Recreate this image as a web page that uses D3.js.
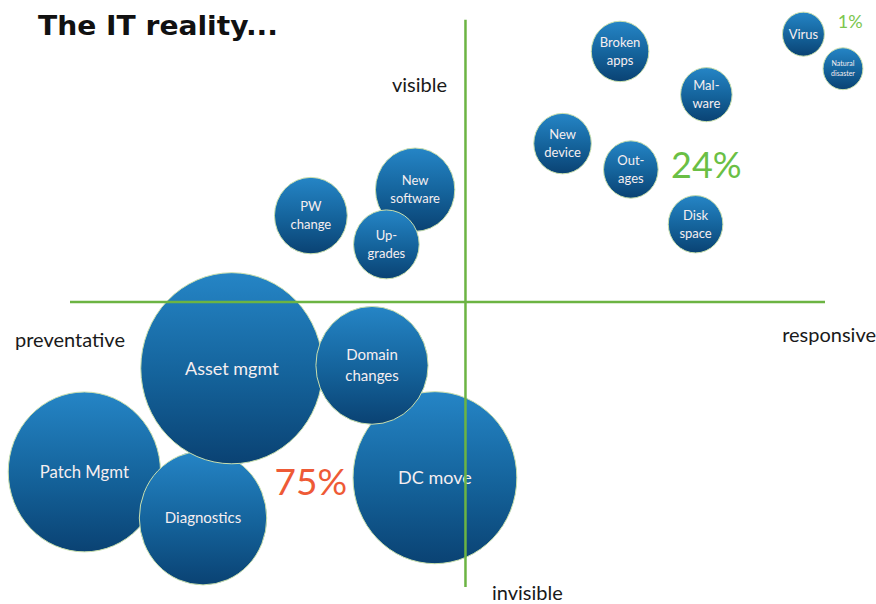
<!DOCTYPE html>
<html lang="en">
<head>
<meta charset="UTF-8">
<title>The IT reality</title>
<script src="https://cdn.jsdelivr.net/npm/d3@7"></script>
<style>
  body{margin:0;background:#fff;}
  text{font-family:Lato,"Open Sans",sans-serif;}
</style>
</head>
<body>
<div class="chart"></div>
<script>
    //data (x: preventative -> responsive, y: invisible -> visible)
    let labels=['PW change','New software','Up-grades','Broken apps','Mal-ware','Virus','Natural disaster',
        'New device','Out-ages','Disk space','Patch Mgmt','Diagnostics','Asset mgmt','DC move','Domain changes']
    let xValues=[-43,-14,-22,43,67,94,105,27,46,64,-106,-73,-65,-8.5,-26]
    let yValues=[30,39,20,87,72,93,81,55,46,27,-59,-75,-23,-61,-22]
    let sizes=[16,19,13,10,8,5.3,4.8,10,9,9,70,49,100,81,38]

    let shareLabels=['75%','24%','1%']
    let shareX=[-43,67,107]
    let shareY=[-67,43,95]

    let axisLabels=['visible','invisible','preventative','responsive']

    //layout
    let width=876,height=604
    let svg=d3.select('.chart').append('svg').attr('width',width).attr('height',height)
    let xScale=d3.scaleLinear().domain([-110,100]).range([70,825])
    let yScale=d3.scaleLinear().domain([-100,100]).range([590,14])
    let rScale=d3.scaleSqrt().domain([0,100]).range([0,91])
    let aspect=1.05

    let grad=svg.append('defs').append('linearGradient').attr('id','bub')
        .attr('x1',0).attr('y1',0).attr('x2',0).attr('y2',1)
    grad.append('stop').attr('offset','0%').attr('stop-color','#2585c6')
    grad.append('stop').attr('offset','55%').attr('stop-color','#14629a')
    grad.append('stop').attr('offset','100%').attr('stop-color','#0a4273')

    //title
    svg.append('text').attr('x',38).attr('y',35).text('The IT reality...')
        .style('font-family','"DejaVu Sans",Verdana,sans-serif').style('font-weight','bold')
        .style('font-size','27px').attr('fill','#111')
        .attr('textLength',240).attr('lengthAdjust','spacingAndGlyphs')

    //bubbles
    let fontFor=(label,r)=>{
        if(label==='Natural disaster') return 7
        if(r<45) return 13
        return Math.min(18,Math.max(15,r*0.22))
    }
    let bubbles=svg.append('g').selectAll('g').data(labels).join('g')
        .attr('transform',(d,i)=>'translate('+xScale(xValues[i])+','+yScale(yValues[i])+')')
    bubbles.append('ellipse')
        .attr('rx',(d,i)=>rScale(sizes[i])).attr('ry',(d,i)=>rScale(sizes[i])*aspect)
        .attr('fill','url(#bub)').attr('stroke','#c9dfae').attr('stroke-width',1)
    bubbles.each(function(d,i){
        let r=rScale(sizes[i])
        let fs=fontFor(d,r)
        let lines=(r<60||d==='Domain changes')?splitLabel(d):[d]
        let t=d3.select(this).append('text').attr('text-anchor','middle')
            .attr('fill','#f6eef0').style('font-size',fs+'px')
        lines.forEach((ln,k)=>{
            t.append('tspan').attr('x',0)
                .attr('y',(k-(lines.length-1)/2)*fs*1.4+fs*0.36).text(ln)
        })
    })
    function splitLabel(s){
        if(s.includes('-')){let p=s.split('-');return [p[0]+'-',p[1]]}
        if(s.includes(' ')&&s!=='Patch Mgmt'&&s!=='Asset mgmt'&&s!=='DC move'){return s.split(' ')}
        return [s]
    }

    //quadrant lines
    let axisColor='#6cb443'
    svg.append('line').attr('x1',xScale(-110)).attr('x2',xScale(100))
        .attr('y1',yScale(0)).attr('y2',yScale(0))
        .attr('stroke',axisColor).attr('stroke-width',2.5)
    svg.append('line').attr('x1',xScale(0)).attr('x2',xScale(0))
        .attr('y1',yScale(98)).attr('y2',yScale(-99))
        .attr('stroke',axisColor).attr('stroke-width',2.5)

    //axis labels
    let axisPos=[[392,92,'start'],[492,600,'start'],[15,347,'start'],[876,342,'end']]
    svg.selectAll('.axlab').data(axisLabels).join('text').attr('class','axlab')
        .attr('x',(d,i)=>axisPos[i][0]).attr('y',(d,i)=>axisPos[i][1])
        .attr('text-anchor',(d,i)=>axisPos[i][2])
        .style('font-size','20px').attr('fill','#1a1a1a').text(d=>d)

    //share labels
    let shareColor=['#ee5a36','#6abf45','#7cc64f']
    let shareSize=[37,36,18]
    svg.selectAll('.share').data(shareLabels).join('text').attr('class','share')
        .attr('x',(d,i)=>xScale(shareX[i])).attr('y',(d,i)=>yScale(shareY[i]))
        .attr('text-anchor','middle').attr('fill',(d,i)=>shareColor[i])
        .style('font-size',(d,i)=>shareSize[i]+'px').text(d=>d)
</script>
</body>
</html>
